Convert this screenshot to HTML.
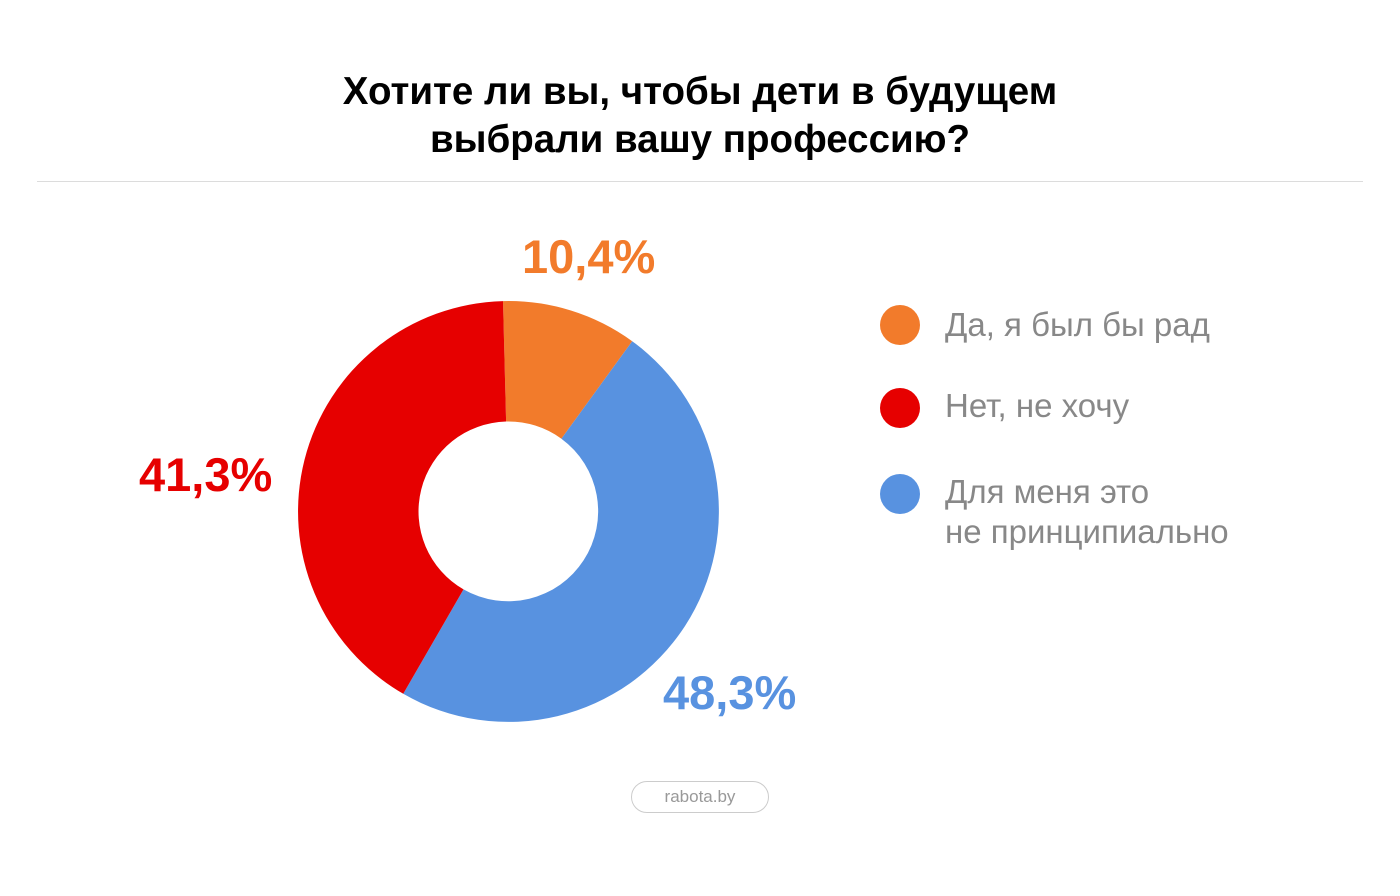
<!DOCTYPE html>
<html><head><meta charset="utf-8"><style>
body{margin:0;width:1400px;height:896px;background:#fff;font-family:"Liberation Sans",sans-serif;overflow:hidden;position:relative}
.t{position:absolute;left:0;width:1400px;top:68px;text-align:center;font-weight:bold;font-size:38.5px;line-height:48px;color:#000}
.hr{position:absolute;left:37px;width:1326px;top:181px;height:1px;background:#dcdcdc}
.p{position:absolute;font-weight:bold;font-size:47px;line-height:50px}
.lg{position:absolute;font-size:33px;color:#888;line-height:40px}
.dot{position:absolute;width:40px;height:40px;border-radius:50%}
.ft{position:absolute;left:631px;top:781px;width:136px;height:30px;border:1px solid #ccc;border-radius:16px;text-align:center;font-size:17px;line-height:30px;color:#999}
</style></head><body>
<div class="t">Хотите ли вы, чтобы дети в будущем<br>выбрали вашу профессию?</div>
<div class="hr"></div>
<svg width="1400" height="896" style="position:absolute;left:0;top:0">
<path d="M503.0,301.1 A210.5,210.5 0 0 1 632.2,341.2 L561.4,438.7 A90,90 0 0 0 506.1,421.5 Z" fill="#F27B2B"/>
<path d="M632.2,341.2 A210.5,210.5 0 0 1 403.25,693.8 L463.5,589.4 A90,90 0 0 0 561.4,438.7 Z" fill="#5892E0"/>
<path d="M403.25,693.8 A210.5,210.5 0 0 1 503.0,301.1 L506.1,421.5 A90,90 0 0 0 463.5,589.4 Z" fill="#E60000"/>
</svg>
<div class="p" style="left:522px;top:232px;color:#F27B2B">10,4%</div>
<div class="p" style="left:139px;top:450px;color:#E60000">41,3%</div>
<div class="p" style="left:663px;top:668px;color:#5892E0">48,3%</div>
<div class="dot" style="left:880px;top:305px;background:#F27B2B"></div>
<div class="dot" style="left:880px;top:388px;background:#E60000"></div>
<div class="dot" style="left:880px;top:474px;background:#5892E0"></div>
<div class="lg" style="left:945px;top:305px">Да, я был бы рад</div>
<div class="lg" style="left:945px;top:386px">Нет, не хочу</div>
<div class="lg" style="left:945px;top:472px">Для меня это<br>не принципиально</div>
<div class="ft">rabota.by</div>
</body></html>
